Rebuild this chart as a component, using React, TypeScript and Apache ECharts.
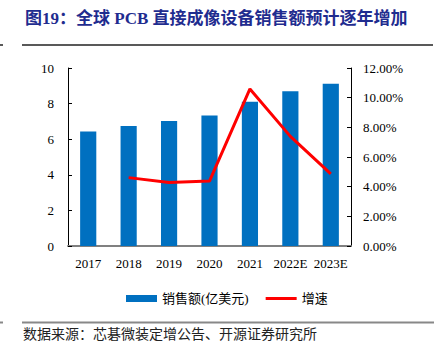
import React, { useEffect, useRef } from "react";
import * as echarts from "echarts";

const categories = ["2017", "2018", "2019", "2020", "2021", "2022E", "2023E"];
const salesValues = [6.43, 6.74, 7.02, 7.33, 8.1, 8.7, 9.12];
const growthValues: (number | null)[] = [null, 4.61, 4.28, 4.38, 10.59, 7.39, 4.86];
const leftTicks = { min: 0, max: 10, interval: 2 };
const rightTicks = { min: 0, max: 12, interval: 2 };
const titleText = "图19：全球 PCB 直接成像设备销售额预计逐年增加";
const sourceText = "数据来源：芯碁微装定增公告、开源证券研究所";
const seriesNames = ["销售额(亿美元)", "增速"];

const FONT = "'Liberation Serif', 'Noto Sans CJK SC', serif";

export default function App() {
  const ref = useRef<HTMLDivElement>(null);
  useEffect(() => {
    if (!ref.current) return;
    const chart = echarts.init(ref.current, undefined, { renderer: "svg" });
    chart.setOption({
      animation: false,
      backgroundColor: "#fff",
      textStyle: { fontFamily: FONT },
      grid: { left: 68, right: 92, top: 68, bottom: 110, containLabel: false },
      legend: {
        left: 121,
        top: 287,
        itemWidth: 31,
        itemHeight: 7,
        itemGap: 17,
        textStyle: { fontFamily: FONT, fontSize: 13, color: "#000" },
        data: [
          { name: seriesNames[0], icon: "rect" },
          { name: seriesNames[1], icon: "path://M0 0 H31 V3 H0 Z" },
        ],
      },
      xAxis: {
        type: "category",
        data: categories,
        axisLine: { lineStyle: { color: "#808080", width: 2 } },
        axisTick: { inside: true, length: 4, lineStyle: { color: "#333" } },
        axisLabel: { fontFamily: FONT, fontSize: 13, color: "#000", margin: 11, interval: 0 },
      },
      yAxis: [
        {
          type: "value",
          ...leftTicks,
          splitLine: { show: false },
          axisLine: { show: true, lineStyle: { color: "#000" } },
          axisTick: { show: true, inside: true, length: 4, lineStyle: { color: "#000" } },
          axisLabel: { fontFamily: FONT, fontSize: 13, color: "#000", margin: 14 },
        },
        {
          type: "value",
          position: "right",
          ...rightTicks,
          splitLine: { show: false },
          axisLine: { show: true, lineStyle: { color: "#000" } },
          axisTick: { show: true, inside: true, length: 4, lineStyle: { color: "#000" } },
          axisLabel: {
            fontFamily: FONT,
            fontSize: 13,
            color: "#000",
            margin: 12,
            formatter: (v: number) => v.toFixed(2) + "%",
          },
        },
      ],
      series: [
        {
          name: seriesNames[0],
          type: "bar",
          data: salesValues,
          barWidth: "40%",
          itemStyle: { color: "#0070C0" },
          yAxisIndex: 0,
        },
        {
          name: seriesNames[1],
          type: "line",
          data: growthValues,
          yAxisIndex: 1,
          symbol: "none",
          lineStyle: { color: "#FF0000", width: 3 },
          itemStyle: { color: "#FF0000" },
        },
      ],
      graphic: [
        {
          type: "text",
          left: 25,
          top: 10,
          style: {
            text: titleText,
            fontFamily: FONT,
            fontWeight: "bold",
            fontSize: 17,
            fill: "#1F2C8F",
          },
        },
        { type: "line", shape: { x1: 22, y1: 45, x2: 433, y2: 45 }, style: { stroke: "#222", lineWidth: 1.5 } },
        { type: "line", shape: { x1: 0, y1: 45, x2: 3, y2: 45 }, style: { stroke: "#222", lineWidth: 1.5 } },
        { type: "line", shape: { x1: 22, y1: 322.5, x2: 434, y2: 322.5 }, style: { stroke: "#888", lineWidth: 2 } },
        { type: "line", shape: { x1: 0, y1: 322.5, x2: 3, y2: 322.5 }, style: { stroke: "#888", lineWidth: 2 } },
        {
          type: "text",
          left: 23,
          top: 327,
          style: { text: sourceText, fontFamily: FONT, fontSize: 14, fill: "#222" },
        },
      ],
    });
    return () => chart.dispose();
  }, []);
  return (
    <div
      ref={ref}
      style={{ position: "fixed", left: 0, top: 0, width: 443, height: 356 }}
    />
  );
}
